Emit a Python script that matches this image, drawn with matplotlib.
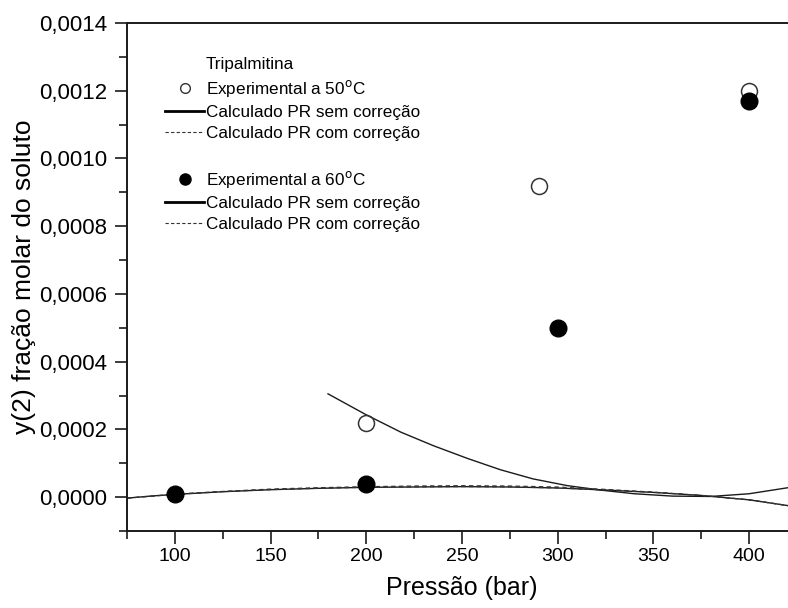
import matplotlib
matplotlib.use("Agg")
import matplotlib.pyplot as plt
from matplotlib.lines import Line2D
from matplotlib.ticker import MultipleLocator, FuncFormatter

plt.rcParams['font.family'] = ['Liberation Sans', 'DejaVu Sans']

# Data
p_exp50 = [200, 290, 400]
y_exp50 = [0.00022, 0.00092, 0.00120]

p_exp60 = [100, 200, 300, 400]
y_exp60 = [0.00001, 0.00004, 0.00050, 0.00117]

# calculated PR curves
p_calc50 = [180, 200, 218, 235, 253, 270, 287, 305, 322, 340, 360, 380, 400, 425]
y_calc50 = [3.05e-4, 2.43e-4, 1.92e-4, 1.52e-4, 1.14e-4, 8.1e-5, 5.4e-5, 3.4e-5,
            2.1e-5, 1.0e-5, 3e-6, 2e-6, 1.0e-5, 3.2e-5]

p_calc60 = [75, 87, 100, 125, 150, 175, 200, 225, 250, 275, 300, 325, 350, 375, 400, 425]
y_calc60 = [-3e-6, 3e-6, 8e-6, 1.6e-5, 2.2e-5, 2.6e-5, 2.9e-5, 3.0e-5, 3.1e-5, 3.0e-5,
            2.7e-5, 2.1e-5, 1.4e-5, 5e-6, -8e-6, -2.9e-5]

p_corr = [75, 100, 125, 150, 175, 200, 225, 250, 275, 300, 325, 350, 375, 400, 425]
y_corr50 = [-3e-6, 8e-6, 1.6e-5, 2.2e-5, 2.6e-5, 2.9e-5, 3.0e-5, 3.1e-5, 3.0e-5,
            2.7e-5, 2.1e-5, 1.4e-5, 5e-6, -8e-6, -2.9e-5]
y_corr60 = [-3e-6, 9e-6, 1.7e-5, 2.4e-5, 2.8e-5, 3.1e-5, 3.3e-5, 3.4e-5, 3.3e-5,
            3.0e-5, 2.3e-5, 1.5e-5, 5e-6, -8e-6, -2.9e-5]

W, H = 788, 608
fig = plt.figure(figsize=(W / 100, H / 100), dpi=100)
ax = fig.add_axes([127 / W, 1 - 531 / H, 670 / W, (531 - 23) / H])

ax.plot(p_calc50, y_calc50, color='#1a1a1a', lw=1.0)
ax.plot(p_calc60, y_calc60, color='#1a1a1a', lw=1.0)
ax.plot(p_corr, y_corr50, color='#333333', lw=0.8, ls=(0, (4, 3)))
ax.plot(p_corr, y_corr60, color='#333333', lw=0.8, ls=(0, (4, 3)))

ax.plot(p_exp50, y_exp50, 'o', ms=11.5, mfc='none', mec='#333333', mew=1.1, ls='none')
ax.plot(p_exp60, y_exp60, 'o', ms=12, mfc='black', mec='black', ls='none')

ax.set_xlim(75, 425)
ax.set_ylim(-0.0001, 0.0014)

ax.xaxis.set_major_locator(MultipleLocator(50))
ax.xaxis.set_minor_locator(MultipleLocator(25))
ax.yaxis.set_major_locator(MultipleLocator(0.0002))
ax.yaxis.set_minor_locator(MultipleLocator(0.0001))


def fmt_y(v, pos):
    if abs(v) < 1e-9:
        v = 0.0
    return ('%.4f' % v).replace('.', ',')


ax.yaxis.set_major_formatter(FuncFormatter(fmt_y))

for s in ['left', 'bottom', 'top']:
    ax.spines[s].set_linewidth(1.4)
    ax.spines[s].set_color('#1a1a1a')
ax.spines['right'].set_visible(False)

ax.tick_params(which='both', direction='out', top=False, right=False, color='#1a1a1a', width=1.2)
ax.tick_params(which='major', length=9)
ax.tick_params(which='minor', length=6)
ax.tick_params(axis='x', which='major', labelsize=14, pad=3)
ax.tick_params(axis='y', which='major', labelsize=16, pad=5)

ax.set_xlabel('Pressão (bar)', fontsize=18, labelpad=8)
ax.set_ylabel('y(2) fração molar do soluto', fontsize=19)
ax.yaxis.set_label_coords(-91 / 670, 0.5)

# legend
blank = Line2D([], [], ls='none')
handles = [
    blank,
    Line2D([], [], marker='o', ls='none', ms=7, mfc='none', mec='#333333', mew=1.0),
    Line2D([], [], color='black', lw=2.0),
    Line2D([], [], color='#333333', lw=0.8, ls=(0, (3, 2))),
    blank,
    Line2D([], [], marker='o', ls='none', ms=8, mfc='black', mec='black'),
    Line2D([], [], color='black', lw=2.0),
    Line2D([], [], color='#333333', lw=0.8, ls=(0, (3, 2))),
]
labels = [
    'Tripalmitina',
    'Experimental a 50$^{\\mathrm{o}}$C',
    'Calculado PR sem correção',
    'Calculado PR com correção',
    ' ',
    'Experimental a 60$^{\\mathrm{o}}$C',
    'Calculado PR sem correção',
    'Calculado PR com correção',
]
leg = ax.legend(handles, labels, loc='upper left', bbox_to_anchor=(165 / W, 1 - 57 / H),
                bbox_transform=fig.transFigure, frameon=False, fontsize=12.3,
                handlelength=2.3, handletextpad=0.1, labelspacing=0.36,
                borderpad=0, borderaxespad=0)

fig.savefig('out.png', dpi=100)
